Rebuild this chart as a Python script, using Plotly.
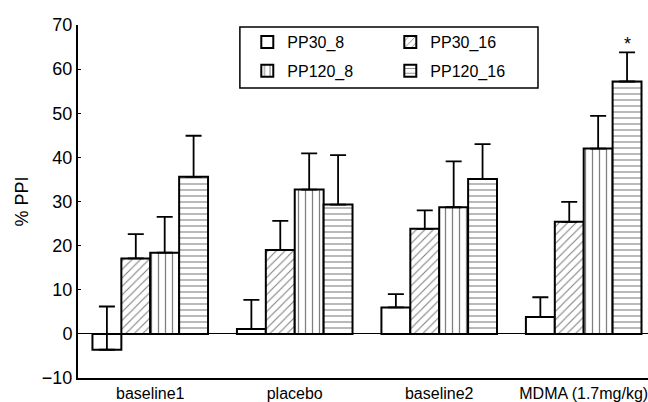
import plotly.graph_objects as go

categories = ["baseline1", "placebo", "baseline2", "MDMA (1.7mg/kg)"]
series_names = ["PP30_8", "PP30_16", "PP120_8", "PP120_16"]
pp30_8 = [-3.6, 1.1, 6.0, 3.8]
pp30_8_err = [9.8, 6.6, 3.0, 4.5]
pp30_16 = [17.1, 19.0, 23.8, 25.4]
pp30_16_err = [5.5, 6.6, 4.2, 4.5]
pp120_8 = [18.4, 32.7, 28.7, 42.0]
pp120_8_err = [8.1, 8.2, 10.4, 7.4]
pp120_16 = [35.6, 29.3, 35.1, 57.2]
pp120_16_err = [9.3, 11.2, 7.9, 6.6]
y_ticks = [-10, 0, 10, 20, 30, 40, 50, 60, 70]

values = [pp30_8, pp30_16, pp120_8, pp120_16]
errors = [pp30_8_err, pp30_16_err, pp120_8_err, pp120_16_err]
patterns = ["", "/", "|", "-"]
pattern_sizes = [6, 6, 7, 6]
legend_rows = ["legend", "legend", "legend2", "legend2"]

FONT = "Liberation Sans, Arial, sans-serif"
xs = list(range(len(categories)))

fig = go.Figure()
for name, v, e, p, s, lg in zip(series_names, values, errors, patterns, pattern_sizes, legend_rows):
    fig.add_trace(go.Bar(
        name=name, x=xs, y=v, legend=lg,
        marker=dict(color="white", line=dict(color="black", width=2),
                    pattern=dict(shape=p, fgcolor="black", bgcolor="white",
                                 size=s, solidity=0.18, fillmode="overlay")),
        error_y=dict(type="data", array=e, symmetric=False, arrayminus=[0]*len(e),
                     color="black", thickness=1.8, width=8),
    ))

fig.add_annotation(x=3.3, y=pp120_16[3] + pp120_16_err[3], text="*", showarrow=False,
                   yanchor="bottom", yshift=-4, font=dict(size=18, color="black", family=FONT))

# legend frame
fig.add_shape(type="rect", xref="paper", yref="paper", x0=0.284, x1=0.807, y0=0.8215, y1=0.994,
              line=dict(color="black", width=1.5), fillcolor="rgba(0,0,0,0)", layer="above")

legend_common = dict(orientation="h", xanchor="left", yanchor="top", borderwidth=0,
                     bgcolor="rgba(0,0,0,0)", font=dict(size=16, family=FONT),
                     entrywidth=98, entrywidthmode="pixels", traceorder="normal")

fig.update_layout(
    width=648, height=402,
    margin=dict(l=78, r=0, t=25, b=24),
    paper_bgcolor="white", plot_bgcolor="white",
    barmode="group", bargap=0.2, bargroupgap=0,
    font=dict(family=FONT, color="black"),
    showlegend=True,
    legend=dict(x=0.297, y=1.0, **legend_common),
    legend2=dict(x=0.297, y=0.918, **legend_common),
    xaxis=dict(range=[-0.5, 3.445], tickvals=xs, ticktext=categories,
               showline=True, linecolor="black", linewidth=2, ticks="",
               ticklabeloverflow="allow",
               showgrid=False, zeroline=False, tickfont=dict(size=16, family=FONT)),
    yaxis=dict(range=[-10, 70], tickvals=y_ticks, showline=True, linecolor="black",
               linewidth=2, ticks="inside", ticklen=3, tickcolor="black",
               showgrid=False, zeroline=True, zerolinecolor="black", zerolinewidth=1,
               tickfont=dict(size=18, family=FONT),
               title=dict(text="% PPI", font=dict(size=18, family=FONT), standoff=9)),
)

fig.write_html("out.html", config={"displayModeBar": False},
               post_script="document.body.style.margin='0';document.body.style.overflow='hidden';")
